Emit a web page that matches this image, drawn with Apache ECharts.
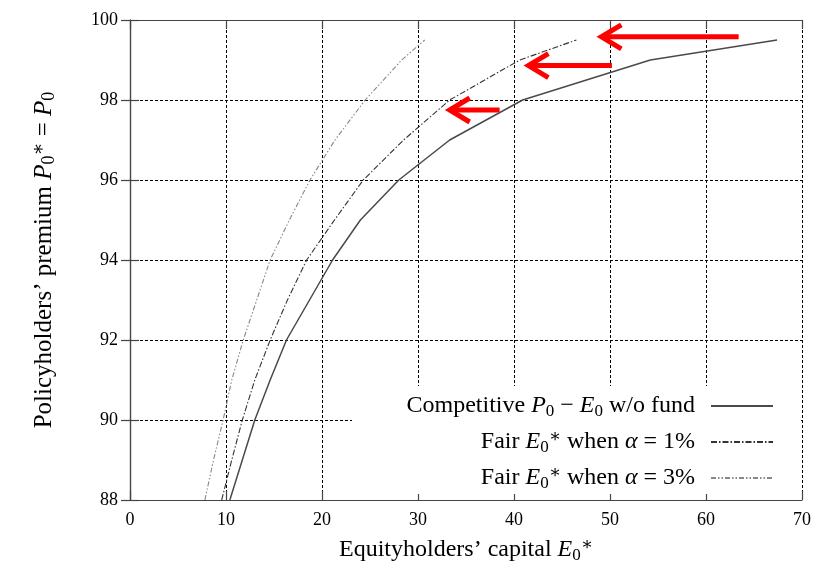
<!DOCTYPE html>
<html><head><meta charset="utf-8">
<script src="https://cdn.jsdelivr.net/npm/echarts@6/dist/echarts.min.js"></script>
<style>html,body{margin:0;padding:0;background:#fff}#c{width:831px;height:570px}</style>
</head><body><div id="c"></div>
<script>
// ---- data ----
const premiumLevels   = [88, 89, 90, 91, 92, 93, 94, 95, 96, 97, 98, 99, 99.5];
const competitiveE0   = [10.4, 11.7, 13.0, 14.6, 16.3, 18.7, 21.1, 24.0, 28.0, 33.3, 40.9, 54.2, 67.4];
const fairAlpha1E0    = [9.55, 10.6, 11.7, 13.0, 14.6, 16.4, 18.4, 21.3, 24.3, 28.5, 33.3, 40.6, 46.5];
const fairAlpha3E0    = [7.8, 8.7, 9.7, 10.6, 11.8, 13.2, 14.6, 16.6, 18.75, 21.35, 24.5, 28.3, 30.7];
const arrowFromX = [63.4, 50.2, 38.5];
const arrowToX   = [49.1, 41.5, 33.3];
const arrowY     = [99.58, 98.86, 97.75];
const seriesNames = ['Competitive P0 − E0 w/o fund', 'Fair E0* when α = 1%', 'Fair E0* when α = 3%'];
const legendRich = [
  'Competitive {i|P}{s|0} − {i|E}{s|0} w/o fund',
  'Fair {i|E}{s|0}{p|∗} when {i|α} = 1%',
  'Fair {i|E}{s|0}{p|∗} when {i|α} = 3%'
];

const SERIF = '"Liberation Serif", "DejaVu Serif", serif';
const FS = 24;      // names and legend
const TFS = 18;     // tick labels
function richFor(fs) {
  return {
    i: {fontFamily: SERIF, fontStyle: 'italic', fontSize: fs, color: '#000'},
    s: {fontFamily: SERIF, fontSize: Math.round(fs * 0.7), verticalAlign: 'bottom', lineHeight: 15, color: '#000'},
    p: {fontFamily: SERIF, fontSize: Math.round(fs * 0.75), verticalAlign: 'top', lineHeight: 17, color: '#000'}
  };
}
const zip = (xs) => xs.map((x, k) => [x, premiumLevels[k]]);

const chart = echarts.init(document.getElementById('c'), null, {renderer: 'canvas'});
const frame = {show: true, lineStyle: {color: '#444', width: 1.2}};
const tick = {show: true, inside: true, length: 9, lineStyle: {color: '#444', width: 1.2}};
chart.setOption({
  animation: false,
  backgroundColor: '#fff',
  grid: {left: 130, right: 29, top: 20, bottom: 70},
  xAxis: [{
    type: 'value', min: 0, max: 70, interval: 10,
    axisLine: frame, axisTick: tick,
    axisLabel: {fontFamily: SERIF, fontSize: TFS, color: '#000', margin: 11},
    splitLine: {show: true, lineStyle: {color: '#000', type: [3, 2], width: 1}},
    name: 'Equityholders’ capital {i|E}{s|0}{p|∗}',
    nameLocation: 'middle', nameGap: 36,
    nameTextStyle: {fontFamily: SERIF, fontSize: FS, color: '#000', lineHeight: 28, rich: richFor(FS)}
  }, {
    type: 'value', position: 'top', min: 0, max: 70, interval: 10,
    axisLine: frame, axisTick: tick, axisLabel: {show: false}, splitLine: {show: false}
  }],
  yAxis: [{
    type: 'value', min: 88, max: 100, interval: 2,
    axisLine: frame, axisTick: tick,
    axisLabel: {fontFamily: SERIF, fontSize: TFS, color: '#000', margin: 12},
    splitLine: {show: true, lineStyle: {color: '#000', type: [3, 2], width: 1}},
    name: 'Policyholders’ premium {i|P}{s|0}{p|∗} = {i|P}{s|0}',
    nameLocation: 'middle', nameGap: 72, nameRotate: 90,
    nameTextStyle: {fontFamily: SERIF, fontSize: 25, color: '#000', lineHeight: 28, rich: richFor(25)}
  }, {
    type: 'value', position: 'right', min: 88, max: 100, interval: 2,
    axisLine: frame, axisTick: tick, axisLabel: {show: false}, splitLine: {show: false}
  }],
  graphic: [{
    type: 'rect', left: 352, top: 386, z: 3,
    shape: {width: 449, height: 108}, style: {fill: '#fff'}
  }],
  legend: {
    data: seriesNames, orient: 'vertical', align: 'right',
    right: 52, top: 387, itemWidth: 62, itemHeight: 14, itemGap: 8, z: 10,
    itemStyle: {opacity: 0},
    formatter: (name) => legendRich[seriesNames.indexOf(name)],
    textStyle: {fontFamily: SERIF, fontSize: FS, color: '#000', lineHeight: 28, padding: [0, 11, 0, 0], rich: richFor(FS)}
  },
  series: [{
    name: seriesNames[0], type: 'line', data: zip(competitiveE0),
    symbol: 'none', showSymbol: false,
    lineStyle: {color: '#4a4a4a', width: 1.5, type: 'solid'}, itemStyle: {color: '#4a4a4a'}
  }, {
    name: seriesNames[1], type: 'line', data: zip(fairAlpha1E0),
    symbol: 'none', showSymbol: false,
    lineStyle: {color: '#333', width: 1.1, type: [6, 2, 1.5, 2]}, itemStyle: {color: '#333'}
  }, {
    name: seriesNames[2], type: 'line', data: zip(fairAlpha3E0),
    symbol: 'none', showSymbol: false,
    lineStyle: {color: '#888', width: 1.1, type: [5, 2, 1.5, 2, 1.5, 2]}, itemStyle: {color: '#888'}
  }, {
    type: 'custom', clip: false, z: 5,
    data: arrowFromX.map((x, k) => [x, arrowToX[k], arrowY[k]]),
    encode: {x: [0, 1], y: 2},
    renderItem: function (params, api) {
      const p0 = api.coord([api.value(0), api.value(2)]);
      const p1 = api.coord([api.value(1), api.value(2)]);
      const st = {stroke: '#ff0000', lineWidth: 5, fill: null, lineJoin: 'miter'};
      return {type: 'group', children: [
        {type: 'line', shape: {x1: p0[0], y1: p0[1], x2: p1[0] + 3, y2: p1[1]}, style: st},
        {type: 'polyline', shape: {points: [[p1[0] + 20, p1[1] - 12], [p1[0], p1[1]], [p1[0] + 20, p1[1] + 12]]}, style: st}
      ]};
    }
  }]
});
</script></body></html>
